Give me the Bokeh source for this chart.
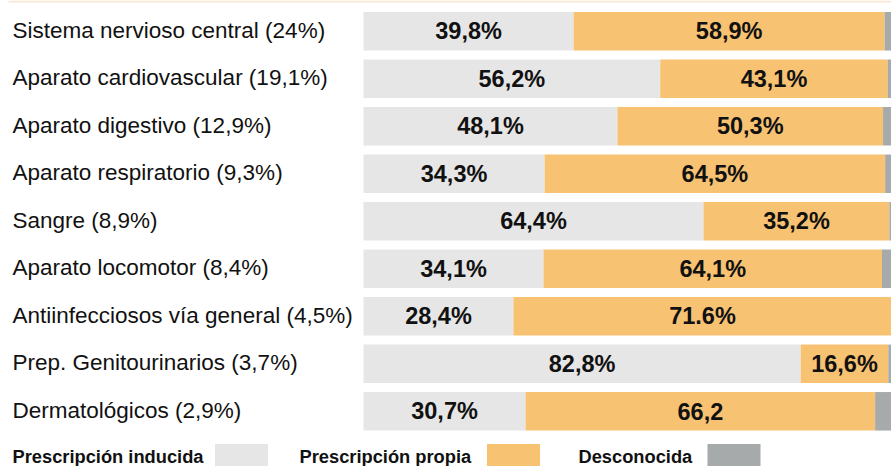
from bokeh.plotting import figure
from bokeh.models import Range1d, ColumnDataSource
from bokeh.core.properties import value
from bokeh.embed import file_html
from bokeh.resources import INLINE

categories = [
    "Sistema nervioso central (24%)",
    "Aparato cardiovascular (19,1%)",
    "Aparato digestivo (12,9%)",
    "Aparato respiratorio (9,3%)",
    "Sangre (8,9%)",
    "Aparato locomotor (8,4%)",
    "Antiinfecciosos vía general (4,5%)",
    "Prep. Genitourinarios (3,7%)",
    "Dermatológicos (2,9%)",
]
inducida = [39.8, 56.2, 48.1, 34.3, 64.4, 34.1, 28.4, 82.8, 30.7]
propia = [58.9, 43.1, 50.3, 64.5, 35.2, 64.1, 71.6, 16.6, 66.2]
desconocida = [1.3, 0.7, 1.6, 1.2, 0.4, 1.8, 0.0, 0.6, 3.1]
inducida_labels = ["39,8%", "56,2%", "48,1%", "34,3%", "64,4%", "34,1%", "28,4%", "82,8%", "30,7%"]
propia_labels = ["58,9%", "43,1%", "50,3%", "64,5%", "35,2%", "64,1%", "71.6%", "16,6%", "66,2"]
legend_labels = ["Prescripción inducida", "Prescripción propia", "Desconocida"]

C_IND = "#e6e6e6"
C_PRO = "#f7c272"
C_DES = "#a7aaaa"

W, H = 891, 466
PXX = 5.28   # px per percent
X0 = 363     # screen x of 0%
PXY = 47.5   # px per row
Y0 = 30.8    # screen y of first row

xs = -X0 / PXX
xe = (W - X0) / PXX
yt = -Y0 / PXY
yb = yt + H / PXY

p = figure(width=W, height=H, output_backend="svg", toolbar_location=None,
           x_range=Range1d(xs, xe), y_range=Range1d(yb, yt),
           min_border=0, min_border_left=0, min_border_right=0,
           min_border_top=0, min_border_bottom=0)
p.margin = (0, 0, 0, 0)
p.xaxis.visible = False
p.yaxis.visible = False
p.grid.visible = False
p.outline_line_color = None
p.background_fill_color = "white"
p.border_fill_color = "white"

rows = list(range(len(categories)))
ind_end = inducida
pro_end = [a + b for a, b in zip(inducida, propia)]
des_end = [a + b + c for a, b, c in zip(inducida, propia, desconocida)]

src = ColumnDataSource(dict(
    y=rows, cat=categories,
    i0=[0] * len(rows), i1=ind_end, p1=pro_end, d1=des_end,
    ic=[v / 2 for v in inducida],
    pc=[a + b / 2 for a, b in zip(inducida, propia)],
    il=inducida_labels, pl=propia_labels,
))

bh = 38.5 / PXY
p.hbar(y="y", left="i0", right="i1", height=bh, fill_color=C_IND, line_color=None, source=src)
p.hbar(y="y", left="i1", right="p1", height=bh, fill_color=C_PRO, line_color=None, source=src)
p.hbar(y="y", left="p1", right="d1", height=bh, fill_color=C_DES, line_color=None, source=src)

font = value("Liberation Sans")
p.text(x=xs + 12 / PXX, y="y", text="cat", source=src, text_font=font,
       text_font_size="22.5px", text_align="left", text_baseline="middle", text_color="#111111",
       y_offset=-1)
p.text(x="ic", y="y", text="il", source=src, text_font=font, text_font_style="bold",
       text_font_size="23.5px", text_align="center", text_baseline="middle", text_color="#111111")
p.text(x="pc", y="y", text="pl", source=src, text_font=font, text_font_style="bold",
       text_font_size="23.5px", text_align="center", text_baseline="middle", text_color="#111111")

# top rule
p.segment(x0=xs + 8 / PXX, x1=xe, y0=yt + 1 / PXY, y1=yt + 1 / PXY, line_color="#fbe8d2", line_width=2)

# legend
ly = (455.5 - Y0) / PXY
leg_text_x = [12, 299, 578]
leg_box_x = [(214 + 268) / 2, (487 + 539) / 2, (707 + 760) / 2]
leg_colors = [C_IND, C_PRO, C_DES]
p.text(x=[xs + v / PXX for v in leg_text_x], y=[ly] * 3, text=legend_labels,
       text_font=font, text_font_style="bold", text_font_size="18.3px",
       text_align="left", text_baseline="middle", text_color="#111111")
p.rect(x=[xs + v / PXX for v in leg_box_x], y=[ly] * 3, width=53 / PXX, height=24 / PXY,
       fill_color=leg_colors, line_color=None)

open("out.html", "w").write(file_html(p, INLINE))
